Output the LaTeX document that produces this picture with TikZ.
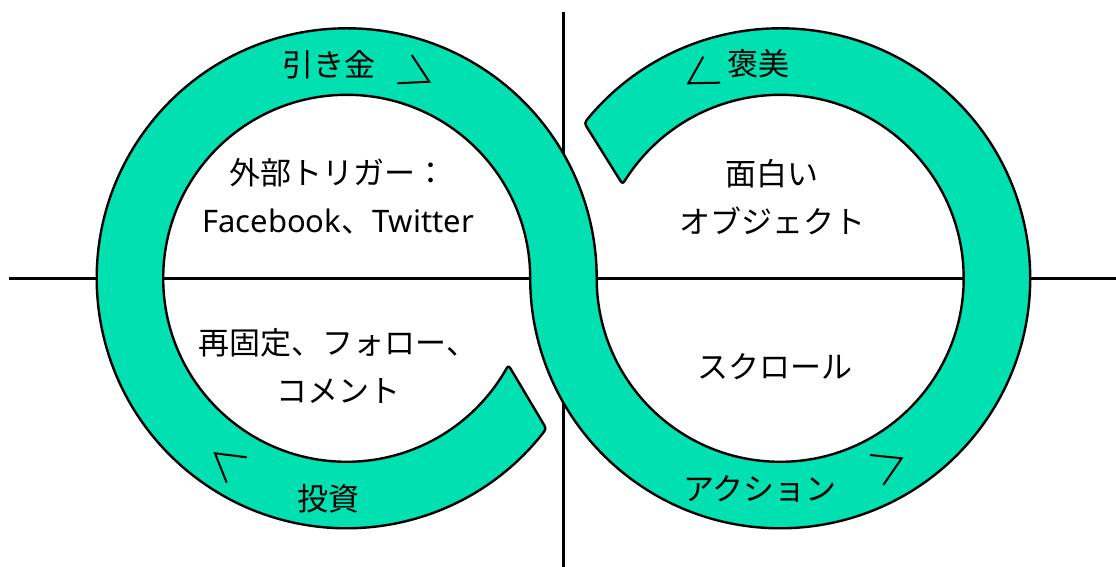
\documentclass[tikz,border=0pt]{standalone}
\usepackage{fontspec}
\setmainfont{Noto Sans}
\newfontfamily\cjkf{Noto Sans CJK JP}
\newfontfamily\latf{Noto Sans}
\usetikzlibrary{calc}
\definecolor{bandgreen}{HTML}{00E0B0}
\begin{document}
\begin{tikzpicture}[x=1pt,y=1pt,
  axis/.style={line width=2.5pt,black},
  band/.style={fill=bandgreen,draw=black,line width=2.4pt,line join=round},
  chev/.style={line width=2pt,black,line join=miter},
  lbl/.style={font=\cjkf\fontsize{31}{48}\selectfont,inner sep=0pt,anchor=base,align=center}]
\useasboundingbox (0,0) rectangle (1116,567);
% centres
\coordinate (CL) at (346.7,288.7);
\coordinate (CR) at (780.2,288.7);
% axes
\coordinate (hl) at (9,288.7);
\coordinate (hr) at (1116,288.7);
\coordinate (vt) at (563.3,555.3);
\coordinate (vb) at (563.3,0);
\draw[axis] (hl) -- (hr);
\draw[axis] (vt) -- (vb);
% band ends
\coordinate (LI) at ($(CL)+(331.8:183.5pt)$);
\coordinate (LO) at ($(CL)+(323:250pt)$);
\coordinate (RI) at ($(CR)+(149.2:183.5pt)$);
\coordinate (RO) at ($(CR)+(141.6:250pt)$);
\coordinate (S) at ($(CL)+(321.3:250pt)$);
% band
\path[band] (S)
  arc[start angle=321.3,end angle=0,radius=250pt]
  arc[start angle=180,end angle=507,radius=183.5pt]
  .. controls (RI) .. ($(RI)!7pt!(RO)$)
  -- ($(RO)!7pt!(RI)$)
  .. controls (RO) .. ($(CR)+(139.9:250pt)$)
  arc[start angle=499.9,end angle=180,radius=250pt]
  arc[start angle=0,end angle=329.6,radius=183.5pt]
  .. controls (LI) .. ($(LI)!7pt!(LO)$)
  -- ($(LO)!7pt!(LI)$)
  .. controls (LO) .. (S) -- cycle;
% chevrons
\draw[chev] (411.7,512) -- (429.3,485.3) -- (397.3,483.7);
\draw[chev] (703.3,510.3) -- (688.3,483.7) -- (720,484.3);
\draw[chev] (246.7,109.7) -- (215,113.7) -- (226.7,84.3);
\draw[chev] (870,112) -- (901.7,108.7) -- (883.3,82);
% labels
\node[lbl] (trig) at (329,490) {引き金};
\node[lbl] (rew) at (758,491) {褒美};
\node[lbl] (inv) at (328,56) {投資};
\node[lbl] (act) at (760,66) {アクション};
\node[lbl] (ext) at (338,334) {外部トリガー：\\{\latf Facebook}、{\latf Twitter}};
\node[lbl] (pin) at (338,164) {再固定、フォロー、\\コメント};
\node[lbl] (obj) at (772,333) {面白い\\オブジェクト};
\node[lbl] (scr) at (775,188) {スクロール};
\end{tikzpicture}
\end{document}
